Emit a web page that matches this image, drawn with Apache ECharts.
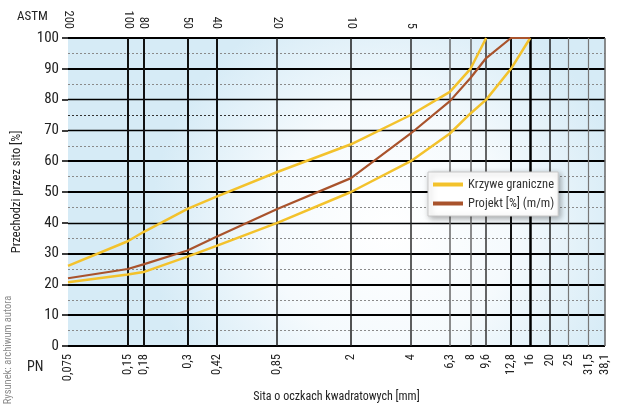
<!DOCTYPE html>
<html>
<head>
<meta charset="utf-8">
<script src="https://cdn.jsdelivr.net/npm/echarts@6/dist/echarts.min.js"></script>
<style>html,body{margin:0;padding:0;background:#fff}#c{width:620px;height:408px}</style>
</head>
<body>
<div id="c"></div>
<script>
// ---- data ----
const sieves = [0.075, 0.15, 0.18, 0.3, 0.42, 0.85, 2, 4, 6.3, 8, 9.6, 12.8, 16, 20, 25, 31.5, 38.1];
const sieveLabels = ['0,075', '0,15', '0,18', '0,3', '0,42', '0,85', '2', '4', '6,3', '8', '9,6', '12,8', '16', '20', '25', '31,5', '38,1'];
const astmSieves = [0.075, 0.15, 0.18, 0.3, 0.42, 0.85, 2, 4];
const astmLabels = ['200', '100', '80', '50', '40', '20', '10', '5'];
const yMajor = [0, 10, 20, 30, 40, 50, 60, 70, 80, 90, 100];
const yMinor = [5, 15, 25, 35, 45, 55, 65, 75, 85, 95];

const upperX = [0.075, 0.15, 0.18, 0.3, 0.42, 0.85, 2, 4, 6.3, 8, 9.6];
const upperY = [26, 34, 37, 44.5, 48.5, 56.5, 65.5, 75, 82.5, 90, 100];
const lowerX = [0.075, 0.15, 0.18, 0.3, 0.42, 0.85, 2, 4, 6.3, 8, 9.6, 12.8, 16];
const lowerY = [20.7, 23.2, 24, 29, 32.5, 40, 50, 60, 69, 75.5, 80, 90, 100];
const projX = [0.075, 0.15, 0.18, 0.3, 0.42, 0.85, 2, 4, 6.3, 8, 9.6, 12.8, 16];
const projY = [22, 25, 26.5, 31, 35.5, 44.5, 54.5, 69, 79.5, 87, 93.5, 100, 100];

// ---- styles ----
const FONT = '"Roboto Condensed", "Liberation Sans", sans-serif';
const vStyle = [[2.5,'#000'],[2,'#111'],[2,'#111'],[2,'#111'],[2,'#111'],[1.5,'#1a1a1a'],[1.5,'#1a1a1a'],[1.5,'#2a2a2a'],
  [1.5,'#666'],[1.5,'#666'],[1.5,'#333'],[2,'#111'],[2.5,'#000'],[1.5,'#222'],[1.2,'#777'],[1.2,'#777'],[1.5,'#666']];
const hWidth = {0:2,10:2,20:2,30:2,40:1.3,50:2,60:2,70:1.3,80:1.3,90:2,100:2};

function pairs(xs, ys) { return xs.map((x, i) => [x, ys[i]]); }
function labelFor(list, labels, v) {
  const i = list.findIndex(s => Math.abs(s - v) < 1e-6 * s);
  return i >= 0 ? labels[i] : '';
}

const gridMarks = [];
yMinor.forEach(v => gridMarks.push({yAxis: v, lineStyle: {color: v === 75 ? '#333' : '#8a8a8a', width: 1, type: [2, 2]}}));
yMajor.forEach(v => gridMarks.push({yAxis: v, lineStyle: {color: '#000', width: hWidth[v], type: 'solid'}}));
sieves.forEach((v, i) => gridMarks.push({xAxis: v, lineStyle: {color: vStyle[i][1], width: vStyle[i][0], type: 'solid'}}));

const chart = echarts.init(document.getElementById('c'), null, {renderer: 'canvas'});
chart.setOption({
  animation: false,
  textStyle: {fontFamily: FONT},
  grid: {
    left: 68, top: 38, width: 537, height: 310, show: true, borderWidth: 0, z: 0,
    backgroundColor: {type: 'radial', x: 0.6, y: 0.62, r: 0.78,
      colorStops: [{offset: 0, color: '#ffffff'}, {offset: 0.5, color: '#f5fafd'}, {offset: 1, color: '#d6ebf6'}]}
  },
  legend: {
    left: 428, top: 172, orient: 'vertical', z: 50, zlevel: 1,
    backgroundColor: '#fff', borderColor: '#c8c8c8', borderWidth: 1,
    shadowBlur: 6, shadowColor: 'rgba(0,0,0,0.35)', shadowOffsetX: 2, shadowOffsetY: 2,
    padding: [6, 4, 6, 5], itemGap: 6, itemWidth: 30, itemHeight: 4, icon: 'rect',
    textStyle: {fontFamily: FONT, fontSize: 12.5, color: '#333'},
    data: ['Krzywe graniczne', 'Projekt [%] (m/m)']
  },
  xAxis: [{
    type: 'log', logBase: 10, min: 0.075, max: 38.1, position: 'bottom',
    axisLine: {show: false}, axisTick: {show: false}, splitLine: {show: false}, minorTick: {show: false},
    axisLabel: {customValues: sieves, rotate: 90, margin: 8, fontSize: 12.5, color: '#222', fontFamily: FONT,
      formatter: v => labelFor(sieves, sieveLabels, v)},
    name: 'Sita o oczkach kwadratowych [mm]', nameLocation: 'middle', nameGap: 45,
    nameTextStyle: {fontFamily: FONT, fontSize: 12, color: '#222'}
  }, {
    type: 'log', logBase: 10, min: 0.075, max: 38.1, position: 'top',
    axisLine: {show: false}, axisTick: {show: false}, splitLine: {show: false}, minorTick: {show: false},
    axisLabel: {customValues: astmSieves, rotate: 90, margin: 9, fontSize: 12.5, color: '#222', fontFamily: FONT,
      formatter: v => labelFor(astmSieves, astmLabels, v)}
  }],
  yAxis: {
    type: 'value', min: 0, max: 100, interval: 10,
    axisLine: {show: false}, splitLine: {show: false},
    axisTick: {show: true, length: 6, lineStyle: {color: '#000', width: 1.5}},
    axisLabel: {fontSize: 15, color: '#222', margin: 9, fontFamily: FONT},
    name: 'Przechodzi przez sito [%]', nameLocation: 'middle', nameGap: 45,
    nameTextStyle: {fontFamily: FONT, fontSize: 12.5, color: '#222'}
  },
  graphic: [
    {type: 'text', x: 17, y: 10, style: {text: 'ASTM', font: '13px ' + FONT, fill: '#222'}},
    {type: 'text', x: 27, y: 360, style: {text: 'PN', font: '14px ' + FONT, fill: '#222'}},
    {type: 'text', x: 8, y: 350, rotation: Math.PI / 2,
      style: {text: 'Rysunek: archiwum autora', font: '10.5px ' + FONT, fill: '#8a8a8a', align: 'center', verticalAlign: 'middle',
        textAlign: 'center', textVerticalAlign: 'middle'}}
  ],
  series: [{
    type: 'line', name: 'grid', data: [], silent: true, z: 1,
    markLine: {silent: true, symbol: 'none', label: {show: false}, animation: false, data: gridMarks}
  }, {
    type: 'line', name: 'Krzywe graniczne', data: pairs(upperX, upperY), showSymbol: false, symbol: 'none', z: 5,
    lineStyle: {color: '#f3c22c', width: 2.5}, itemStyle: {color: '#f3c22c'}
  }, {
    type: 'line', name: 'Krzywe graniczne', data: pairs(lowerX, lowerY), showSymbol: false, symbol: 'none', z: 5,
    lineStyle: {color: '#f3c22c', width: 2.5}, itemStyle: {color: '#f3c22c'}
  }, {
    type: 'line', name: 'Projekt [%] (m/m)', data: pairs(projX, projY), showSymbol: false, symbol: 'none', z: 6,
    lineStyle: {color: '#a9532c', width: 2.2}, itemStyle: {color: '#a9532c'}
  }]
});
</script>
</body>
</html>
